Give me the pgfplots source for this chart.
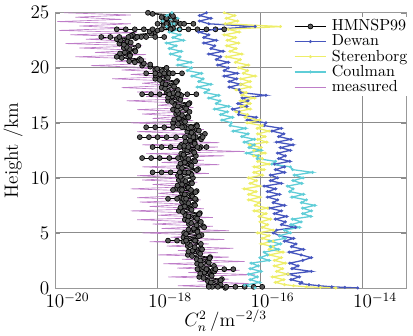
\documentclass[border=0pt]{standalone}
\usepackage{pgfplots}
\usepackage{pgfplotstable}
\pgfplotsset{compat=1.18}
\definecolor{dewan}{RGB}{70,86,190}
\definecolor{steren}{RGB}{238,238,105}
\definecolor{coulman}{RGB}{95,205,215}
\definecolor{meas}{RGB}{190,125,200}

\pgfplotstableread{
h c
0.0 2.1e-17
0.2 1e-17
0.4 1.6e-17
0.6 9.6e-18
0.8 1.8e-17
1.0 6.5e-18
1.2 1.1e-17
1.4 8.2e-18
1.6 1.2e-17
1.8 6.9e-18
2.0 1.26e-17
2.2 5.9e-18
2.4 9.4e-18
2.6 5.8e-18
2.8 1.06e-17
3.0 3.9e-18
3.2 6.4e-18
3.4 4.8e-18
3.6 7e-18
3.8 3.9e-18
4.0 7e-18
4.2 3.2e-18
4.4 5.2e-18
4.6 3.2e-18
4.8 7.2e-18
5.0 3.3e-18
5.2 6e-18
5.4 5.1e-18
5.6 7.8e-18
5.8 4.1e-18
6.0 7e-18
6.2 3.4e-18
6.4 5.5e-18
6.6 3.5e-18
6.8 6.7e-18
7.0 2.6e-18
7.2 4.4e-18
7.4 3.4e-18
7.6 5.2e-18
7.8 3e-18
8.0 5.6e-18
8.2 2.7e-18
8.4 4.6e-18
8.6 3e-18
8.8 5.8e-18
9.0 2.3e-18
9.2 3.9e-18
9.4 3e-18
9.6 4.6e-18
9.8 2.6e-18
10.0 4.9e-18
10.2 2.5e-18
10.4 4.4e-18
10.6 3e-18
10.8 6.2e-18
11.0 2.6e-18
11.2 4.4e-18
11.4 3.4e-18
11.6 5.2e-18
11.8 3e-18
12.0 5.6e-18
12.2 2.9e-18
12.4 5e-18
12.6 3.4e-18
12.8 7e-18
13.0 2.9e-18
13.2 5.3e-18
13.4 4.3e-18
13.6 7e-18
13.8 4.3e-18
14.0 8.4e-18
14.2 3.8e-18
14.4 5.8e-18
14.6 3.4e-18
14.8 5.8e-18
15.0 2e-18
15.2 3.3e-18
15.4 2.6e-18
15.6 3.9e-18
15.8 2.3e-18
16.0 4.2e-18
16.2 2e-18
16.4 3.4e-18
16.6 2.2e-18
16.8 4.2e-18
17.0 1.6e-18
17.2 2.6e-18
17.4 1.9e-18
17.6 2.7e-18
17.8 1.5e-18
18.0 2.5e-18
18.2 1.2e-18
18.4 2e-18
18.6 1.25e-18
18.8 2.4e-18
19.0 9e-19
19.2 1.5e-18
19.4 1.1e-18
19.6 1.6e-18
19.8 9e-19
20.0 1.5e-18
20.2 5e-19
20.4 5.4e-19
20.6 2.8e-19
20.8 4.5e-19
21.0 1.6e-19
21.2 2.9e-19
21.4 2.3e-19
21.6 3.6e-19
21.8 2.2e-19
22.0 4.2e-19
22.2 1.8e-19
22.4 2.6e-19
22.6 1.6e-19
22.8 4.8e-19
23.0 3.3e-19
23.2 8.8e-19
23.4 1e-18
23.6 2e-18
23.8 1.3e-18
24.0 2.8e-18
24.2 1.3e-18
24.4 2.2e-18
24.6 1.2e-18
24.8 1.9e-18
25.0 6.5e-19
}\hmn

\pgfplotstableread{
h c
0.1 1.16e-17
0.3 1.7e-17
0.5 1.1e-17
0.7 1.7e-17
0.9 7.9e-18
1.1 1.14e-17
1.3 6.8e-18
1.5 1.28e-17
1.7 9.3e-18
1.9 7.7e-18
2.1 7e-18
2.3 1e-17
2.5 6.8e-18
2.7 1.04e-17
2.9 4.7e-18
3.1 6.8e-18
3.3 4e-18
3.5 7.4e-18
3.7 5.3e-18
3.9 4.3e-18
4.1 3.8e-18
4.3 5.6e-18
4.5 3.7e-18
4.7 6.4e-18
4.9 3.6e-18
5.1 6e-18
5.3 4e-18
5.5 8.1e-18
5.7 5.75e-18
5.9 4.5e-18
6.1 3.9e-18
6.3 5.9e-18
6.5 4e-18
6.7 6.5e-18
6.9 3.1e-18
7.1 4.6e-18
7.3 2.8e-18
7.5 5.4e-18
7.7 4e-18
7.9 3.4e-18
8.1 3.2e-18
8.3 4.8e-18
8.5 3.4e-18
8.7 5.5e-18
8.9 2.7e-18
9.1 4e-18
9.3 2.45e-18
9.5 4.7e-18
9.7 3.5e-18
9.9 3e-18
10.1 2.8e-18
10.3 4.6e-18
10.5 3.4e-18
10.7 5.8e-18
10.9 3e-18
11.1 4.6e-18
11.3 2.8e-18
11.5 5.4e-18
11.7 4e-18
11.9 3.4e-18
12.1 3.2e-18
12.3 5.2e-18
12.5 3.8e-18
12.7 6.5e-18
12.9 3.3e-18
13.1 5.3e-18
13.3 3.5e-18
13.5 7.1e-18
13.7 5.55e-18
13.9 5e-18
14.1 4.6e-18
14.3 6.4e-18
14.5 4e-18
14.7 5.9e-18
14.9 2.5e-18
15.1 3.45e-18
15.3 2.1e-18
15.5 4e-18
15.7 3e-18
15.9 2.55e-18
16.1 2.4e-18
16.3 3.6e-18
16.5 2.5e-18
16.7 4e-18
16.9 1.9e-18
17.1 2.8e-18
17.3 1.6e-18
17.5 2.9e-18
17.7 2e-18
17.9 1.6e-18
18.1 1.4e-18
18.3 2.1e-18
18.5 1.44e-18
18.7 2.3e-18
18.9 1.1e-18
19.1 1.6e-18
19.3 9.2e-19
19.5 1.7e-18
19.7 1.22e-18
19.9 9.8e-19
20.1 7.2e-19
20.3 7.2e-19
20.5 3.6e-19
20.7 4.8e-19
20.9 2e-19
21.1 2.9e-19
21.3 1.85e-19
21.5 3.7e-19
21.7 2.85e-19
21.9 2.5e-19
22.1 2.2e-19
22.3 3e-19
22.5 1.9e-19
22.7 3.75e-19
22.9 3e-19
23.1 7.5e-19
23.3 7e-19
23.5 1.8e-18
23.7 1.6e-18
23.9 1.6e-18
24.1 1.56e-18
24.3 2.3e-18
24.5 1.5e-18
24.7 2e-18
24.9 8e-19
}\hmnb

\pgfplotstableread{
h c
0.00 8e-15
0.05 4.5e-15
0.10 2.5e-15
0.20 1.4e-15
0.30 9e-16
0.40 6e-16
0.50 6.5e-16
0.75 4e-16
1.00 5.8e-16
1.25 3.5e-16
1.50 1e-15
1.75 4.2e-16
2.00 5.5e-16
2.25 3.8e-16
2.50 6.8e-16
2.75 1e-15
3.00 6.3e-16
3.25 3.7e-16
3.50 7e-16
3.75 4.1e-16
4.00 5e-16
4.25 3e-16
4.50 4.5e-16
4.75 2.4e-16
5.00 1.8e-16
5.25 2.1e-16
5.50 4.9e-16
5.75 2.6e-16
6.00 3.1e-16
6.25 2e-16
6.50 3.3e-16
6.75 1.9e-16
7.00 2.6e-16
7.25 1.5e-16
7.50 3e-16
7.75 1.8e-16
8.00 2.2e-16
8.25 1.4e-16
8.50 2.4e-16
8.75 1.4e-16
9.00 2e-16
9.25 1.2e-16
9.50 2.6e-16
9.75 1.6e-16
10.00 2.2e-16
10.25 1.6e-16
10.50 3e-16
10.75 2e-16
11.00 3e-16
11.25 1.9e-16
11.50 3.8e-16
11.75 2.3e-16
12.00 3.1e-16
12.25 2.2e-16
12.50 3.9e-16
12.75 2.5e-16
13.00 4.4e-16
13.25 2.1e-16
13.50 4e-16
13.75 2.3e-16
14.00 2.9e-16
14.25 1.7e-16
14.50 2.6e-16
14.75 1.2e-16
15.00 1.3e-16
15.25 5.6e-17
15.50 8.4e-17
15.75 3.8e-17
16.00 3.9e-17
16.25 2.9e-17
16.50 5.5e-17
16.75 3.7e-17
17.00 5.8e-17
17.25 4.5e-17
17.50 1.3e-16
17.75 4.2e-17
18.00 3.9e-17
18.25 2.5e-17
18.50 4.2e-17
18.75 2.5e-17
19.00 3.5e-17
19.25 2e-17
19.50 3.6e-17
19.75 2e-17
20.00 2.4e-17
20.25 1.5e-17
20.50 2.4e-17
20.75 1.4e-17
21.00 1.7e-17
21.25 1e-17
21.50 1.9e-17
21.75 1.1e-17
22.00 1.3e-17
22.25 8e-18
22.50 1.4e-17
22.75 8e-18
23.00 1e-17
23.25 6.3e-18
23.50 1.3e-17
23.75 8e-17
24.00 1e-17
24.25 6.6e-18
24.50 1.1e-17
24.75 6.6e-18
25.00 9e-18
}\dewan

\pgfplotstableread{
h c
0.00 3e-15
0.05 1.5e-15
0.10 8e-16
0.20 4.5e-16
0.30 3e-16
0.50 2e-16
0.75 2.9e-16
1.00 1.75e-16
1.25 3.5e-16
1.50 2.1e-16
1.75 2.75e-16
2.00 1.9e-16
2.25 3.1e-16
2.50 1.9e-16
2.75 2.6e-16
3.00 1.5e-16
3.25 2.8e-16
3.50 1.5e-16
3.75 1.8e-16
4.00 1.05e-16
4.25 1.8e-16
4.50 1.1e-16
4.75 1.5e-16
5.00 9e-17
5.25 1.8e-16
5.50 1.1e-16
5.75 1.4e-16
6.00 1e-16
6.25 1.6e-16
6.50 9.6e-17
6.75 1.3e-16
7.00 7.7e-17
7.25 1.4e-16
7.50 8e-17
7.75 9.6e-17
8.00 6e-17
8.25 1e-16
8.50 6e-17
8.75 8.3e-17
9.00 4.9e-17
9.25 1e-16
9.50 6.4e-17
9.75 8.5e-17
10.00 6e-17
10.25 1.1e-16
10.50 7.6e-17
10.75 1.2e-16
11.00 7.7e-17
11.25 1.5e-16
11.50 9e-17
11.75 1.1e-16
12.00 7.5e-17
12.25 1.25e-16
12.50 7.6e-17
12.75 1.05e-16
13.00 6.3e-17
13.25 1.35e-16
13.50 9e-17
13.75 1.25e-16
14.00 9e-17
14.25 1.5e-16
14.50 8.8e-17
14.75 1.1e-16
15.00 5.6e-17
15.25 9.8e-17
15.50 5.1e-17
15.75 5.7e-17
16.00 3.4e-17
16.25 6.4e-17
16.50 4.2e-17
16.75 6.4e-17
17.00 4.2e-17
17.25 7.8e-17
17.50 4.4e-17
17.75 5.4e-17
18.00 3.4e-17
18.25 6.4e-17
18.50 4.2e-17
18.75 6.4e-17
19.00 4.2e-17
19.25 8e-17
19.50 4.7e-17
19.75 5.7e-17
20.00 3.8e-17
20.25 5.9e-17
20.50 3.3e-17
20.75 4.1e-17
21.00 2.2e-17
21.25 4.4e-17
21.50 2.6e-17
21.75 3.4e-17
22.00 2.25e-17
22.25 3.8e-17
22.50 2.3e-17
22.75 3.3e-17
23.00 2e-17
23.25 3.9e-17
23.50 2.4e-17
23.75 2.5e-16
24.00 2.1e-17
24.25 3.6e-17
24.50 2.2e-17
24.75 3.2e-17
25.00 2e-17
}\steren

\pgfplotstableread{
h c
0.00 8e-17
0.25 5e-17
0.50 9.8e-17
0.75 6.4e-17
1.00 8.8e-17
1.25 6e-17
1.50 1.04e-16
1.75 6.4e-17
2.00 9.2e-17
2.25 6.7e-17
2.50 1.5e-16
2.75 1e-16
3.00 1.4e-16
3.25 1.2e-16
3.50 2.3e-16
3.75 1.6e-16
4.00 2.5e-16
4.25 1.5e-16
4.50 3.1e-16
4.75 2.4e-16
5.00 3.9e-16
5.25 3e-16
5.50 5.9e-16
5.75 4e-16
6.00 6.3e-16
6.25 4.3e-16
6.50 9.8e-16
6.75 6.8e-16
7.00 1e-15
7.25 6.8e-16
7.50 1.17e-15
7.75 6.4e-16
8.00 8e-16
8.25 4.2e-16
8.50 7e-16
8.75 3.8e-16
9.00 4.4e-16
9.25 3.4e-16
9.50 6.5e-16
9.75 4.4e-16
10.00 6.9e-16
10.25 4.7e-16
10.50 1.05e-15
10.75 4.3e-16
11.00 3.9e-16
11.25 1.7e-16
11.50 2e-16
11.75 8.8e-17
12.00 9.2e-17
12.25 5.4e-17
12.50 1.05e-16
12.75 6.1e-17
13.00 7.7e-17
13.25 4.9e-17
13.50 7.8e-17
13.75 4.4e-17
14.00 5.8e-17
14.25 3e-17
14.50 5.2e-17
14.75 2.6e-17
15.00 2.75e-17
15.25 1.8e-17
15.50 2.9e-17
15.75 1.7e-17
16.00 2.3e-17
16.25 1.3e-17
16.50 2.45e-17
16.75 1.4e-17
17.00 1.65e-17
17.25 1e-17
17.50 1.56e-17
17.75 8.4e-18
18.00 1e-17
18.25 6e-18
18.50 1.1e-17
18.75 6.4e-18
19.00 7.7e-18
19.25 4.7e-18
19.50 7.2e-18
19.75 3.8e-18
20.00 4.6e-18
20.25 2.5e-18
20.50 4.5e-18
20.75 2.5e-18
21.00 2.75e-18
21.25 1.8e-18
21.50 2.9e-18
21.75 1.7e-18
22.00 2.3e-18
22.25 1.5e-18
22.50 3.2e-18
22.75 2e-18
23.00 2.75e-18
23.25 1.7e-18
23.50 2.7e-18
23.75 1.5e-18
24.00 2.1e-18
24.25 1.25e-18
24.50 2.45e-18
24.75 1.5e-18
25.00 1.9e-18
}\coulman

\pgfplotstableread{
h c
0.0 3e-17
0.2 2.5e-18
0.4 6e-17
0.6 6e-18
0.8 2.5e-17
1.0 1.6e-18
1.2 8e-17
1.4 4e-18
1.6 4e-17
1.8 2.4e-18
2.0 2e-17
2.2 1.3e-18
2.4 5e-17
2.6 3e-18
2.8 2.5e-17
3.0 1e-18
3.2 1.5e-17
3.4 2.5e-18
3.6 3e-17
3.8 1.5e-18
4.0 1e-17
4.2 7e-19
4.4 2e-17
4.6 1.8e-18
4.8 8e-18
5.0 5e-19
5.2 2.5e-17
5.4 1.2e-18
5.6 1.2e-17
5.8 8e-19
6.0 6e-18
6.2 4e-19
6.4 1.2e-17
6.6 1e-18
6.8 5e-18
7.0 3e-19
7.2 8e-18
7.4 7e-19
7.6 4e-18
7.8 4.5e-19
8.0 7e-18
8.2 4e-19
8.4 3.5e-18
8.6 1e-18
8.8 6e-18
9.0 3e-19
9.2 4e-18
9.4 8e-19
9.6 6e-18
9.8 5e-19
10.0 3e-18
10.2 4e-19
10.4 1e-17
10.6 1e-18
10.8 5e-18
11.0 5e-19
11.2 1.6e-17
11.4 1.2e-18
11.6 8e-18
11.8 7e-19
12.0 2e-17
12.2 6e-19
12.4 5e-17
12.6 1.5e-18
12.8 1.5e-17
13.0 5e-19
13.2 1.6e-17
13.4 1.2e-18
13.6 8e-18
13.8 7e-19
14.0 6e-18
14.2 4e-19
14.4 8e-18
14.6 1e-18
14.8 4e-18
15.0 3e-19
15.2 5e-18
15.4 8e-19
15.6 3e-18
15.8 5e-19
16.0 4e-18
16.2 4e-19
16.4 5e-18
16.6 1e-18
16.8 3e-18
17.0 2.5e-19
17.2 4e-18
17.4 6e-19
17.6 2.5e-18
17.8 4e-19
18.0 2.5e-18
18.2 2e-19
18.4 1.8e-18
18.6 5e-19
18.8 2e-18
19.0 1.3e-19
19.2 1.5e-18
19.4 3e-19
19.6 2e-18
19.8 2e-19
20.0 1e-18
20.2 5e-20
20.4 8e-19
20.6 1.5e-19
20.8 6e-19
21.0 2.5e-20
21.2 6e-19
21.4 6e-20
21.6 4e-19
21.8 3e-20
22.0 5e-19
22.2 1.6e-20
22.4 3e-19
22.6 4e-20
22.8 5e-19
23.0 2e-20
23.2 4e-19
23.4 1.2e-20
23.6 2.5e-19
23.8 3e-20
24.0 3e-19
24.2 1.1e-20
24.4 2e-19
24.6 2.5e-20
24.8 3e-19
25.0 1.5e-20
}\meas

\pgfplotsset{
  hmn/.style={black, line width=0.4pt, mark=*, mark size=1.55pt,
    mark options={fill=black!65, draw=black, line width=0.4pt, solid}},
  model/.style={#1, line width=0.8pt, mark=*, mark size=0.5pt,
    mark options={fill=#1, draw=#1}},
  measst/.style={meas, line width=0.4pt},
}

\begin{document}
\begin{tikzpicture}
\begin{axis}[
  name=ax,
  scale only axis,
  width=219.4pt, height=172pt,
  xmode=log,
  xmin=1e-20, xmax=7e-14,
  ymin=0, ymax=25,
  xtick={1e-20,1e-18,1e-16,1e-14},
  xticklabels={$10\rlap{$^{-20}$}$,$10\rlap{$^{-18}$}$,$10\rlap{$^{-16}$}$,$10\rlap{$^{-14}$}$},
  xminorticks=false,
  ytick={0,5,10,15,20,25},
  grid=major,
  grid style={black!45, line width=0.5pt},
  axis line style={black!40},
  tick style={black!45},
  tick align=inside,
  major tick length=3pt,
  ticklabel style={font=\large},
  xticklabel style={yshift=0.5pt},
  label style={font=\large},
  ylabel={Height /km},
  xlabel={$C_n^2\,/\mathrm{m}^{-2/3}$},
  ylabel style={yshift=-2pt},
  xlabel style={yshift=5.5pt, xshift=-3pt},
  legend cell align=left,
  legend image code/.code={\draw[mark repeat=2,mark phase=2,#1] plot coordinates {(0cm,0cm) (0.35cm,0cm) (0.7cm,0cm)};},
  legend style={at={(1.012,0.985)}, anchor=north east, draw=none, fill=white,
    inner sep=1pt, column sep=2.5pt, font=\normalsize,
    nodes={inner sep=0.5pt}},
]
\addplot[measst, forget plot] table[x=c, y=h] {\meas};
\addplot[hmn] table[x=c, y=h] {\hmn};
\addlegendentry{HMNSP99}
\addplot[hmn, forget plot] table[x=c, y=h] {\hmnb};
\addplot[hmn, forget plot] coordinates {(1e-17,0.1) (1.5e-17,0.1) (2.2e-17,0.1) (3.3e-17,0.1) (5e-17,0.1) (7.5e-17,0.1) (1.1e-16,0.1)};
\addplot[hmn, forget plot] coordinates {(6e-18,1.7) (9e-18,1.7) (1.35e-17,1.7) (2e-17,1.7) (3e-17,1.7)};
\addplot[hmn, forget plot] coordinates {(1.6e-18,4.3) (2.4e-18,4.3) (3.6e-18,4.3) (5.4e-18,4.3)};
\addplot[hmn, forget plot] coordinates {(1.6e-18,8.1) (2.4e-18,8.1) (3.6e-18,8.1) (5.4e-18,8.1)};
\addplot[hmn, forget plot] coordinates {(2e-18,8.9) (3e-18,8.9) (4.5e-18,8.9)};
\addplot[hmn, forget plot] coordinates {(8e-19,10.5) (1.2e-18,10.5) (1.8e-18,10.5) (2.7e-18,10.5) (4e-18,10.5)};
\addplot[hmn, forget plot] coordinates {(5e-19,11.8) (7.5e-19,11.8) (1.1e-18,11.8) (1.7e-18,11.8) (2.5e-18,11.8)};
\addplot[hmn, forget plot] coordinates {(8e-19,12.8) (1.2e-18,12.8) (1.8e-18,12.8) (2.7e-18,12.8) (4e-18,12.8) (6e-18,12.8) (9e-18,12.8)};
\addplot[hmn, forget plot] coordinates {(4.5e-19,13.7) (6.8e-19,13.7) (1e-18,13.7) (1.5e-18,13.7) (2.3e-18,13.7) (3.4e-18,13.7) (5e-18,13.7) (7.6e-18,13.7)};
\addplot[hmn, forget plot] coordinates {(6e-19,14.6) (9e-19,14.6) (1.35e-18,14.6) (2e-18,14.6) (3e-18,14.6) (4.5e-18,14.6)};
\addplot[hmn, forget plot] coordinates {(5e-19,17.6) (7.5e-19,17.6) (1.1e-18,17.6) (1.7e-18,17.6) (2.5e-18,17.6) (3.8e-18,17.6) (5.7e-18,17.6)};
\addplot[hmn, forget plot] coordinates {(6e-19,19.5) (9e-19,19.5) (1.35e-18,19.5) (2e-18,19.5) (3e-18,19.5)};
\addplot[hmn, forget plot] coordinates {(8e-20,22.8) (1.2e-19,22.8) (1.8e-19,22.8) (2.7e-19,22.8) (4e-19,22.8) (6e-19,22.8) (9e-19,22.8) (1.35e-18,22.8)};
\addplot[hmn, forget plot] coordinates {(1.6e-19,23.5) (2.4e-19,23.5) (3.6e-19,23.5) (5.4e-19,23.5) (8e-19,23.5) (1.2e-18,23.5) (1.8e-18,23.5) (2.7e-18,23.5) (4e-18,23.5) (6e-18,23.5) (9e-18,23.5) (1.35e-17,23.5) (2e-17,23.5)};
\addplot[hmn, forget plot] coordinates {(1e-18,24.0) (1.5e-18,24.0) (2.2e-18,24.0) (3.3e-18,24.0) (5e-18,24.0)};
\addplot[model=dewan] table[x=c, y=h] {\dewan};
\addlegendentry{Dewan}
\addplot[model=steren] table[x=c, y=h] {\steren};
\addlegendentry{Sterenborg}
\addplot[model=coulman] table[x=c, y=h] {\coulman};
\addlegendentry{Coulman}
\addlegendimage{measst}
\addlegendentry{measured}
\end{axis}
\pgfresetboundingbox
\path ([shift={(-34.4pt,-30pt)}]ax.south west) rectangle ([shift={(4.4pt,8pt)}]ax.north east);
\end{tikzpicture}
\end{document}
